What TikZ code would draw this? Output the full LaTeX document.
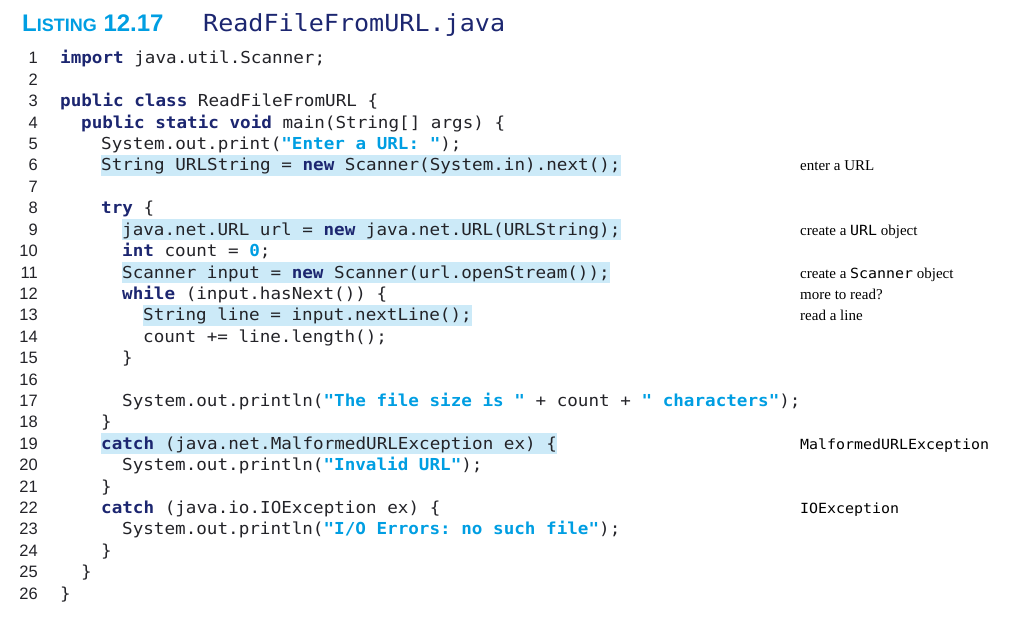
\documentclass[tikz,border=0pt]{standalone}
\usepackage{fontspec}
\setmainfont{Liberation Serif}
\setmonofont{DejaVu Sans Mono}[FakeStretch=1.067]
\newfontfamily\titlesans{Liberation Sans}
\usetikzlibrary{backgrounds}
\definecolor{kwblue}{RGB}{28,38,112}
\definecolor{strcyan}{RGB}{0,158,226}
\definecolor{hlblue}{RGB}{204,234,248}
\definecolor{codegray}{RGB}{35,35,40}
\newcommand{\kw}[1]{{\bfseries\color{kwblue}#1}}
\newcommand{\str}[1]{{\bfseries\color{strcyan}#1}}
\tikzset{
  code/.style={anchor=base west,inner sep=0pt,text height=16pt,text depth=5pt,
    font=\ttfamily\fontsize{16.5}{20}\selectfont,text=codegray},
  lnum/.style={anchor=base east,inner sep=0pt,font=\titlesans\fontsize{16.5}{20}\selectfont,text=codegray},
  note/.style={anchor=base west,inner sep=0pt,font=\fontsize{15}{18}\selectfont,text=black},
  hl/.style={fill=hlblue}
}
\newcommand{\tcode}[1]{{\ttfamily\fontsize{14}{18}\selectfont #1}}
\begin{document}
\begin{tikzpicture}[x=1pt,y=-1pt]
\useasboundingbox (0,0) rectangle (1024,620);
% title
\node[anchor=base west,inner sep=0pt,text=strcyan,font=\titlesans\bfseries] (title) at (22,32)
  {\fontsize{24}{28}\selectfont L\fontsize{18}{28}\selectfont ISTING\fontsize{24}{28}\selectfont{} 12.17};
\node[anchor=base west,inner sep=0pt,text=kwblue,font=\ttfamily\fontsize{23.5}{28}\selectfont] (fname) at (203,32) {ReadFileFromURL.java};
% line numbers
\foreach \n in {1,...,26}
  \node[lnum] (n\n) at (38,{64+(\n-1)*21.4}) {\n};
% code lines
\node[code] (l1) at (60,64) {\kw{import} java.util.Scanner;};
\node[code] (l3) at (60,106.8) {\kw{public class} ReadFileFromURL \{};
\node[code] (l4) at (81,128.2) {\kw{public static void} main(String[] args) \{};
\node[code] (l5) at (101,149.6) {System.out.print(\str{"Enter a URL: "});};
\node[code] (l6) at (101,171) {String URLString = \kw{new} Scanner(System.in).next();};
\node[code] (l8) at (101,213.8) {\kw{try} \{};
\node[code] (l9) at (122,235.2) {java.net.URL url = \kw{new} java.net.URL(URLString);};
\node[code] (l10) at (122,256.6) {\kw{int} count = \str{0};};
\node[code] (l11) at (122,278) {Scanner input = \kw{new} Scanner(url.openStream());};
\node[code] (l12) at (122,299.4) {\kw{while} (input.hasNext()) \{};
\node[code] (l13) at (143,320.8) {String line = input.nextLine();};
\node[code] (l14) at (143,342.2) {count += line.length();};
\node[code] (l15) at (122,363.6) {\}};
\node[code] (l17) at (122,406.4) {System.out.println(\str{"The file size is "} + count + \str{" characters"});};
\node[code] (l18) at (101,427.8) {\}};
\node[code] (l19) at (101,449.2) {\kw{catch} (java.net.MalformedURLException ex) \{};
\node[code] (l20) at (122,470.6) {System.out.println(\str{"Invalid URL"});};
\node[code] (l21) at (101,492) {\}};
\node[code] (l22) at (101,513.4) {\kw{catch} (java.io.IOException ex) \{};
\node[code] (l23) at (122,534.8) {System.out.println(\str{"I/O Errors: no such file"});};
\node[code] (l24) at (101,556.2) {\}};
\node[code] (l25) at (81,577.6) {\}};
\node[code] (l26) at (60,599) {\}};
% highlights
\begin{scope}[on background layer]
  \foreach \h in {l6,l9,l11,l13,l19}
    \fill[hl] (\h.south west) rectangle (\h.north east);
\end{scope}
% notes
\node[note] (c6) at (800,171) {enter a URL};
\node[note] (c9) at (800,235.2) {create a \tcode{URL} object};
\node[note] (c11) at (800,278) {create a \tcode{Scanner} object};
\node[note] (c12) at (800,299.4) {more to read?};
\node[note] (c13) at (800,320.8) {read a line};
\node[note] (c19) at (800,449.2) {\tcode{MalformedURLException}};
\node[note] (c22) at (800,513.4) {\tcode{IOException}};
\end{tikzpicture}
\end{document}
